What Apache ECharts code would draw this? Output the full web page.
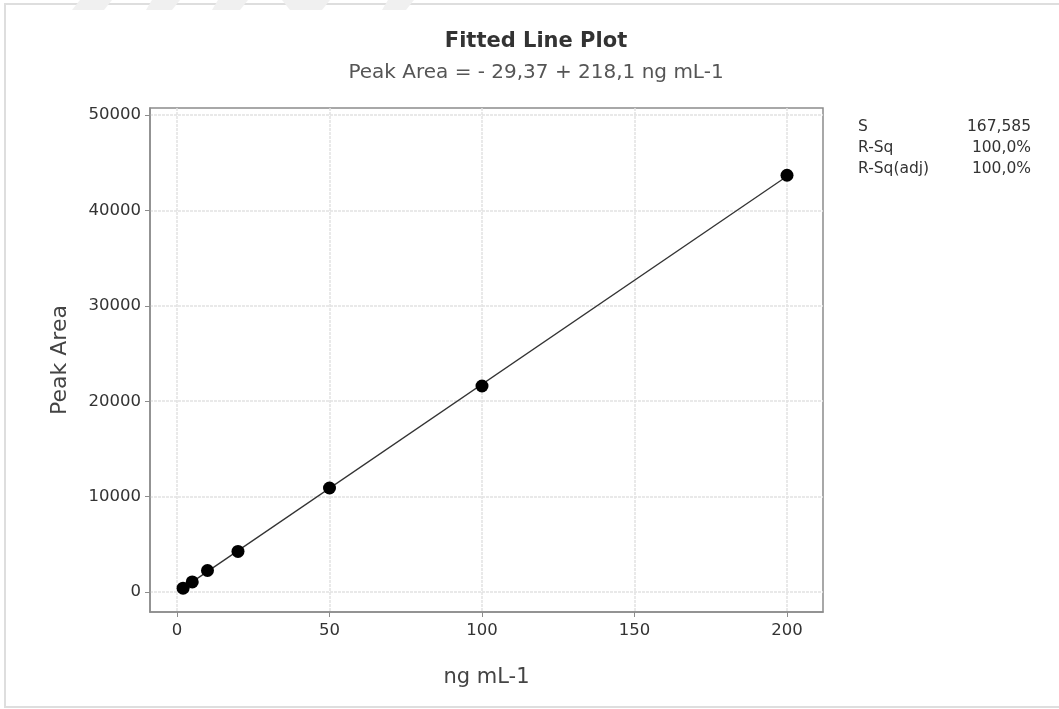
<!DOCTYPE html>
<html>
<head>
<meta charset="utf-8">
<script src="https://cdn.jsdelivr.net/npm/echarts@6/dist/echarts.min.js"></script>
<style>html,body{margin:0;padding:0;background:#fff}#c{width:1059px;height:709px}</style>
</head>
<body>
<div id="c"></div>
<script>
const concentrations = [2, 5, 10, 20, 50, 100, 200];
const peakAreas = [400, 1050, 2250, 4250, 10900, 21600, 43700];
const fitX = [2, 200];
const fitY = [406.8, 43590.6];
const xTicks = [0, 50, 100, 150, 200];
const yTicks = [0, 10000, 20000, 30000, 40000, 50000];
const statNames = ['S', 'R-Sq', 'R-Sq(adj)'];
const statValues = ['167,585', '100,0%', '100,0%'];
const titleText = 'Fitted Line Plot';
const subtitleText = 'Peak Area = - 29,37 + 218,1 ng mL-1';

const FONT = '"DejaVu Sans", "Open Sans", sans-serif';
const chart = echarts.init(document.getElementById('c'), null, {renderer: 'canvas'});

const graphics = [
  {type: 'rect', shape: {x: 5, y: 4, width: 1060, height: 703}, style: {fill: 'none', stroke: '#dedede', lineWidth: 2}, silent: true},
  {type: 'polygon', shape: {points: [[80,0],[112,0],[104,10],[72,10]]}, style: {fill: '#f0f0f0'}},
  {type: 'polygon', shape: {points: [[152,0],[180,0],[172,10],[146,10]]}, style: {fill: '#f0f0f0'}},
  {type: 'polygon', shape: {points: [[218,0],[248,0],[240,10],[212,10]]}, style: {fill: '#f0f0f0'}},
  {type: 'polygon', shape: {points: [[282,0],[330,0],[322,10],[290,10]]}, style: {fill: '#f0f0f0'}},
  {type: 'polygon', shape: {points: [[388,0],[414,0],[406,10],[382,10]]}, style: {fill: '#f0f0f0'}},
  {type: 'text', x: 536, y: 42, style: {text: titleText, textAlign: 'center', textVerticalAlign: 'middle', font: 'bold 21px ' + FONT, fill: '#333'}},
  {type: 'text', x: 536, y: 73, style: {text: subtitleText, textAlign: 'center', textVerticalAlign: 'middle', font: '20px ' + FONT, fill: '#555'}}
];
statNames.forEach((n, i) => {
  graphics.push({type: 'text', x: 858, y: 127 + i * 21, style: {text: n, textAlign: 'left', textVerticalAlign: 'middle', font: '15.5px ' + FONT, fill: '#333'}});
  graphics.push({type: 'text', x: 1031, y: 127 + i * 21, style: {text: statValues[i], textAlign: 'right', textVerticalAlign: 'middle', font: '15.5px ' + FONT, fill: '#333'}});
});

const splitStyle = {show: true, lineStyle: {color: '#e2e2e2', width: 1.5, type: [3, 1]}};

chart.setOption({
  animation: false,
  backgroundColor: '#fff',
  grid: {left: 150, right: 236, top: 108, bottom: 97, show: true, borderColor: '#8c8c8c', borderWidth: 1.5, backgroundColor: '#fff'},
  xAxis: {
    type: 'value', min: -8.85, max: 211.8,
    name: 'ng mL-1', nameLocation: 'middle', nameGap: 55,
    nameTextStyle: {fontSize: 21, color: '#444', fontFamily: FONT},
    axisLine: {show: true, onZero: false, lineStyle: {color: '#8c8c8c', width: 1.5}},
    axisTick: {show: true, length: 5, customValues: xTicks, lineStyle: {color: '#8c8c8c'}},
    axisLabel: {customValues: xTicks, fontSize: 16.5, color: '#333', fontFamily: FONT, margin: 10, formatter: v => String(v)},
    splitLine: splitStyle
  },
  yAxis: {
    type: 'value', min: -2100, max: 50750,
    name: 'Peak Area', nameLocation: 'middle', nameGap: 79, nameRotate: 90,
    nameTextStyle: {fontSize: 22, color: '#444', fontFamily: FONT},
    axisLine: {show: true, onZero: false, lineStyle: {color: '#8c8c8c', width: 1.5}},
    axisTick: {show: true, length: 5, customValues: yTicks, lineStyle: {color: '#8c8c8c'}},
    axisLabel: {customValues: yTicks, fontSize: 16.5, color: '#333', fontFamily: FONT, margin: 9, formatter: v => String(v)},
    splitLine: splitStyle
  },
  series: [
    {
      type: 'line', data: fitX.map((x, i) => [x, fitY[i]]), showSymbol: false, symbol: 'none',
      lineStyle: {color: '#333', width: 1.3}, z: 2, silent: true
    },
    {
      type: 'scatter', data: concentrations.map((x, i) => [x, peakAreas[i]]),
      symbol: 'circle', symbolSize: 13, itemStyle: {color: '#000', opacity: 1}, z: 3
    }
  ],
  graphic: graphics
});
</script>
</body>
</html>
